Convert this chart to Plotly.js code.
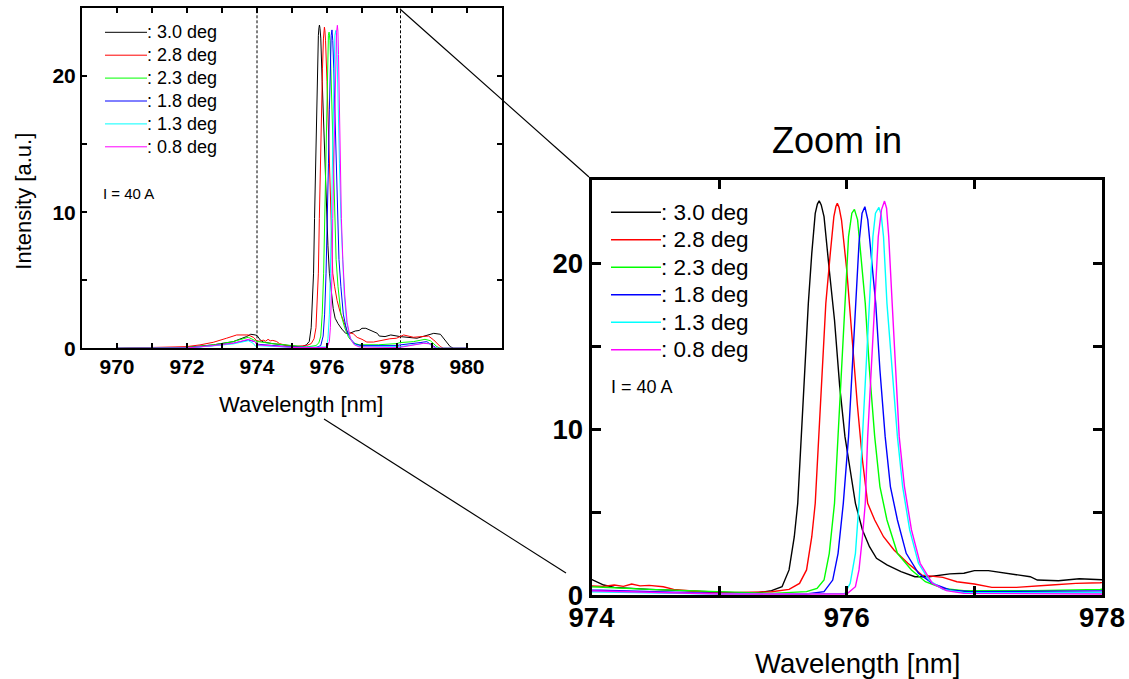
<!DOCTYPE html>
<html>
<head>
<meta charset="utf-8">
<script src="https://cdn.plot.ly/plotly-3.0.1.min.js"></script>
<style>html,body{margin:0;padding:0;background:#fff;}#chart{width:1129px;height:679px;}</style>
</head>
<body>
<div id="chart"></div>
<script>
// ---------------- data ----------------
const seriesLabels = [": 3.0 deg", ": 2.8 deg", ": 2.3 deg", ": 1.8 deg", ": 1.3 deg", ": 0.8 deg"];
const seriesColors = ["#000000", "#ff0000", "#00ff00", "#0000ff", "#00ffff", "#ff00ff"];

const wl_30 = [970.0,971.0,971.98,972.75,973.32,973.70,973.82,973.95,974.0,974.096,974.178,974.452,974.726,975.0,975.274,975.411,975.493,975.548,975.589,975.616,975.644,975.671,975.699,975.726,975.753,975.770,975.784,975.800,975.822,975.863,975.904,975.945,975.986,976.027,976.068,976.123,976.178,976.233,976.315,976.425,976.534,976.644,976.808,976.918,977.0,977.11,977.274,977.438,977.493,977.658,977.822,977.986,978.09,978.57,978.85,979.05,979.24,979.38,979.52,979.62,980.0];
const int_30 = [0.0,0.02,0.07,0.25,0.49,0.86,1.03,0.98,0.94,0.60,0.46,0.34,0.26,0.14,0.10,0.26,0.50,1.51,3.51,5.52,9.54,13.55,17.57,20.58,22.99,23.55,23.75,23.50,22.79,19.58,16.57,12.55,9.54,7.53,5.52,3.92,2.91,2.21,1.81,1.41,1.10,1.10,1.27,1.31,1.47,1.47,1.27,1.10,0.90,0.86,0.98,0.94,0.86,0.74,0.98,1.10,1.03,0.61,0.12,0.0,0.0];

const wl_28 = [970.0,971.41,971.98,972.37,972.75,973.13,973.42,973.75,973.90,974.0,974.09,974.178,974.25,974.315,974.38,974.452,974.562,974.644,974.863,975.055,975.411,975.548,975.63,975.685,975.726,975.753,975.781,975.808,975.836,975.871,975.899,975.915,975.926,975.940,975.959,976.0,976.041,976.082,976.123,976.164,976.219,976.288,976.37,976.479,976.589,976.753,976.863,977.0,977.137,977.329,977.603,977.795,977.986,978.19,978.47,978.76,978.9,979.05,979.24,979.33,980.0];
const int_28 = [0.0,0.05,0.12,0.25,0.44,0.74,0.98,0.98,0.80,0.54,0.52,0.60,0.52,0.66,0.55,0.58,0.50,0.34,0.20,0.14,0.20,0.34,0.70,1.51,3.51,5.52,9.54,13.55,17.57,20.58,22.79,23.40,23.59,23.35,22.59,19.58,15.56,11.55,8.13,5.52,4.52,3.51,2.71,1.91,1.20,1.06,0.80,0.66,0.46,0.46,0.60,0.70,0.74,0.98,0.81,0.86,0.90,0.61,0.12,0.0,0.0];

const wl_23 = [970.0,971.98,972.75,973.32,973.75,973.89,974.0,974.452,975.0,975.41,975.685,975.767,975.822,975.863,975.904,975.932,975.959,975.986,976.014,976.04,976.06,976.085,976.11,976.145,976.178,976.219,976.26,976.315,976.397,976.507,976.616,976.753,976.918,977.466,977.986,978.09,978.47,978.8,978.95,979.14,979.24,980.0];
const int_23 = [0.0,0.05,0.25,0.49,0.81,0.66,0.50,0.34,0.18,0.10,0.20,0.40,0.90,2.51,5.52,9.54,13.55,17.57,21.59,23.0,23.23,22.6,20.58,17.57,13.55,9.54,6.53,4.52,2.51,1.51,0.80,0.40,0.26,0.26,0.34,0.42,0.49,0.66,0.56,0.12,0.0,0.0];

const wl_18 = [970.0,971.98,972.75,973.32,973.75,973.94,974.0,975.0,975.685,975.822,975.89,975.932,975.973,976.014,976.041,976.068,976.096,976.12,976.142,976.165,976.192,976.227,976.26,976.301,976.342,976.397,976.466,976.562,976.671,976.808,976.973,977.986,978.09,978.66,978.85,978.99,979.14,980.0];
const int_18 = [0.0,0.02,0.20,0.37,0.61,0.49,0.30,0.10,0.06,0.20,0.90,2.51,5.52,9.54,13.55,17.57,21.18,23.0,23.39,22.6,20.58,17.57,13.55,9.54,6.53,4.52,2.51,1.31,0.70,0.30,0.20,0.20,0.25,0.42,0.49,0.25,0.0,0.0];

const wl_13 = [970.0,971.98,972.75,973.32,973.75,973.89,973.96,974.0,975.0,975.986,976.027,976.068,976.096,976.123,976.151,976.178,976.205,976.225,976.252,976.27,976.288,976.315,976.356,976.397,976.438,976.493,976.562,976.644,976.753,976.918,977.986,978.09,978.76,978.9,979.05,979.14,980.0];
const int_13 = [0.0,0.02,0.18,0.32,0.56,0.37,0.15,0.20,0.06,0.10,0.70,2.51,5.52,9.54,13.55,17.57,21.59,23.0,23.35,22.9,21.59,17.57,13.55,9.54,6.53,3.92,1.91,0.90,0.34,0.14,0.14,0.12,0.37,0.37,0.07,0.0,0.0];

const wl_08 = [970.0,971.98,972.75,973.32,973.75,973.94,974.0,975.0,976.0,976.068,976.096,976.123,976.145,976.164,976.192,976.219,976.247,976.272,976.296,976.312,976.329,976.356,976.384,976.411,976.452,976.507,976.575,976.671,976.781,976.918,977.986,978.09,978.76,978.95,979.1,980.0];
const int_08 = [0.0,0.02,0.20,0.37,0.66,0.49,0.26,0.06,0.06,0.50,1.51,3.51,5.52,9.54,13.55,17.57,21.59,23.2,23.73,23.3,21.59,17.57,13.55,9.54,6.53,3.92,1.91,0.70,0.26,0.10,0.06,0.07,0.37,0.32,0.0,0.0];

const seriesWl = [wl_30, wl_28, wl_23, wl_18, wl_13, wl_08];
const seriesInt = [int_30, int_28, int_23, int_18, int_13, int_08];

const currentLabel = "I = 40 A";
const zoomMarks = [974, 978.1];

// ---------------- helpers ----------------
const W = 1129, H = 679;
const px = v => v / W;
const py = v => 1 - v / H;
const FONT = "Liberation Sans, Arial, Helvetica, sans-serif";

// ---------------- traces ----------------
const traces = [];
for (let i = 0; i < seriesLabels.length; i++) {
  traces.push({x: seriesWl[i], y: seriesInt[i], xaxis: 'x', yaxis: 'y', type: 'scatter', mode: 'lines',
    name: seriesLabels[i], line: {color: seriesColors[i], width: 1}, showlegend: false, hoverinfo: 'skip'});
}
for (let i = 0; i < seriesLabels.length; i++) {
  traces.push({x: seriesWl[i], y: seriesInt[i], xaxis: 'x2', yaxis: 'y2', type: 'scatter', mode: 'lines',
    name: seriesLabels[i], line: {color: seriesColors[i], width: 1.4}, showlegend: false, hoverinfo: 'skip'});
}

// ---------------- shapes & annotations ----------------
const shapes = [];
const annotations = [];

zoomMarks.forEach(m => shapes.push({type: 'line', xref: 'x', yref: 'y domain', x0: m, x1: m, y0: 0, y1: 1,
  layer: 'below', line: {color: 'black', width: 1, dash: '3px,2px'}}));

// connector lines from the overview to the zoomed panel
shapes.push({type: 'line', xref: 'paper', yref: 'paper', x0: px(400), y0: py(9), x1: px(589), y1: py(177), line: {color: 'black', width: 1.2}});
shapes.push({type: 'line', xref: 'paper', yref: 'paper', x0: px(324), y0: py(419), x1: px(566), y1: py(573), line: {color: 'black', width: 1.2}});

// manual legends
function legend(x0, x1, ys, size, lw) {
  for (let i = 0; i < seriesLabels.length; i++) {
    shapes.push({type: 'line', xref: 'paper', yref: 'paper', x0: px(x0), x1: px(x1), y0: py(ys[i]), y1: py(ys[i]),
      line: {color: seriesColors[i], width: lw}});
    annotations.push({xref: 'paper', yref: 'paper', x: px(x1), y: py(ys[i]), xanchor: 'left', yanchor: 'middle',
      text: seriesLabels[i], showarrow: false, font: {family: FONT, size: size, color: 'black'}, xshift: -2});
  }
}
legend(105, 147, [32.3, 55.2, 78.1, 101.0, 123.9, 146.8], 18, 1);
legend(611, 661, [212.3, 239.8, 267.3, 294.8, 322.3, 349.8], 22.5, 1.5);

annotations.push({xref: 'paper', yref: 'paper', x: px(101), y: py(193), xanchor: 'left', yanchor: 'middle',
  text: currentLabel, showarrow: false, font: {family: FONT, size: 15, color: 'black'}});
annotations.push({xref: 'paper', yref: 'paper', x: px(609), y: py(387), xanchor: 'left', yanchor: 'middle',
  text: currentLabel, showarrow: false, font: {family: FONT, size: 18, color: 'black'}});

// axis titles
annotations.push({xref: 'paper', yref: 'paper', x: px(300.5), y: py(404), xanchor: 'center', yanchor: 'middle',
  text: 'Wavelength [nm]', showarrow: false, font: {family: FONT, size: 22, color: 'black'}});
annotations.push({xref: 'paper', yref: 'paper', x: px(24), y: py(201.7), xanchor: 'center', yanchor: 'middle', textangle: -90,
  text: 'Intensity [a.u.]', showarrow: false, font: {family: FONT, size: 22, color: 'black'}});
annotations.push({xref: 'paper', yref: 'paper', x: px(857), y: py(663), xanchor: 'center', yanchor: 'middle',
  text: 'Wavelength [nm]', showarrow: false, font: {family: FONT, size: 27.5, color: 'black'}});

// ---------------- axes ----------------
function xAx(domain, range, anchor, tl, tw, lw, fs, so) {
  return {domain: domain, range: range, anchor: anchor, tick0: 970, dtick: 2, ticks: 'inside', ticklen: tl, tickwidth: tw,
    tickcolor: 'black', showline: true, linewidth: lw, linecolor: 'black', mirror: 'ticks', showgrid: false, zeroline: false,
    ticklabelstandoff: so,
    tickfont: {family: FONT, size: fs, color: 'black', weight: 'bold'},
    minor: {dtick: 1, ticks: 'inside', ticklen: tl, tickwidth: tw, tickcolor: 'black', showgrid: false}, fixedrange: true};
}
function yAx(domain, anchor, tl, tw, lw, fs) {
  return {domain: domain, range: [0, 25], anchor: anchor, tick0: 0, dtick: 10, ticks: 'inside', ticklen: tl, tickwidth: tw,
    tickcolor: 'black', showline: true, linewidth: lw, linecolor: 'black', mirror: 'ticks', showgrid: false, zeroline: false,
    tickfont: {family: FONT, size: fs, color: 'black', weight: 'bold'},
    minor: {dtick: 5, ticks: 'inside', ticklen: tl, tickwidth: tw, tickcolor: 'black', showgrid: false}, fixedrange: true};
}

const layout = {
  width: W, height: H, margin: {l: 0, r: 0, t: 0, b: 0, pad: 0},
  paper_bgcolor: 'white', plot_bgcolor: 'white', showlegend: false,
  font: {family: FONT, color: 'black'},
  title: {text: 'Zoom in', x: px(837), xanchor: 'center', y: py(140), yanchor: 'middle', xref: 'paper', yref: 'container',
    font: {family: FONT, size: 36, color: 'black'}},
  xaxis: xAx([px(82), px(502)], [969, 981], 'y', 5, 1.5, 2, 21, -2),
  yaxis: yAx([py(348.3), py(8)], 'x', 5, 1.5, 2, 21),
  xaxis2: xAx([px(591.5), px(1102)], [974, 978], 'y2', 9, 3, 3, 27.5, -4),
  yaxis2: yAx([py(595), py(180)], 'x2', 9, 3, 3, 27.5),
  shapes: shapes,
  annotations: annotations
};

Plotly.newPlot('chart', traces, layout, {displayModeBar: false, staticPlot: true});
</script>
</body>
</html>
